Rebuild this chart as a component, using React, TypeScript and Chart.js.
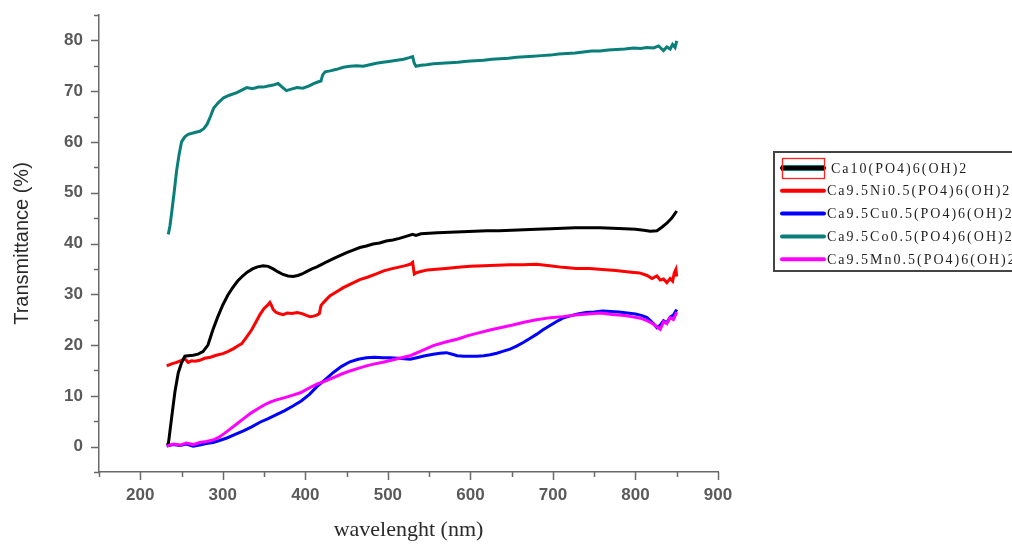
import React, { useEffect, useRef } from "react";
import { Chart, registerables } from "chart.js";

Chart.register(...registerables);

// ---- Data (wavelength in nm, transmittance in %) ----
const ca10X = [232, 234, 238, 242, 246, 250, 254, 258, 264, 270, 276, 282, 288, 294, 300, 306, 312, 318, 324, 330, 336, 342, 349, 355, 361, 367, 373, 379, 385, 391, 396, 402, 408, 414, 420, 426, 434, 442, 450, 458, 466, 474, 482, 490, 498, 506, 514, 522, 530, 534, 540, 550, 560, 575, 590, 605, 620, 635, 650, 665, 680, 697, 712, 727, 742, 757, 772, 787, 800, 810, 818, 826, 832, 838, 844, 850];
const ca10Y = [0.3, 0.5, 5.7, 10.8, 14.5, 16.5, 17.8, 17.9, 18.0, 18.2, 18.7, 20.0, 23.0, 25.6, 27.9, 29.8, 31.3, 32.6, 33.6, 34.4, 35.0, 35.4, 35.6, 35.5, 35.0, 34.4, 33.9, 33.6, 33.5, 33.7, 34.0, 34.5, 35.0, 35.4, 35.9, 36.4, 37.0, 37.6, 38.2, 38.7, 39.2, 39.5, 39.9, 40.1, 40.5, 40.7, 41.0, 41.4, 41.8, 41.6, 41.9, 42.0, 42.1, 42.2, 42.3, 42.4, 42.5, 42.5, 42.6, 42.7, 42.8, 42.9, 43.0, 43.1, 43.1, 43.1, 43.0, 42.9, 42.8, 42.6, 42.4, 42.5, 43.2, 44.0, 45.0, 46.4];

const niX = [232, 238, 244, 250, 254, 258, 262, 266, 272, 278, 285, 292, 300, 306, 313, 318, 323, 329, 335, 340, 345, 350, 354, 357, 359, 361, 364, 368, 373, 378, 384, 390, 396, 402, 406, 410, 414, 417, 419, 421, 425, 430, 438, 446, 456, 466, 476, 486, 495, 504, 512, 520, 527, 530, 532, 534, 540, 548, 555, 570, 585, 600, 616, 632, 648, 664, 680, 696, 712, 728, 744, 760, 776, 792, 805, 814, 820, 826, 830, 834, 838, 842, 845, 847, 849, 850];
const niY = [15.9, 16.3, 16.6, 17.0, 17.3, 16.6, 16.9, 16.8, 17.0, 17.4, 17.6, 18.0, 18.3, 18.7, 19.3, 19.8, 20.3, 21.6, 23.0, 24.5, 26.0, 27.2, 27.8, 28.4, 27.8, 27.0, 26.5, 26.2, 26.0, 26.3, 26.2, 26.4, 26.2, 25.8, 25.6, 25.7, 25.9, 26.2, 27.8, 28.2, 28.9, 29.7, 30.5, 31.3, 32.1, 32.9, 33.4, 34.0, 34.6, 35.0, 35.3, 35.6, 35.9, 36.3, 34.0, 34.2, 34.5, 34.8, 34.9, 35.1, 35.3, 35.5, 35.6, 35.7, 35.8, 35.8, 35.9, 35.6, 35.3, 35.1, 35.1, 34.9, 34.7, 34.4, 34.2, 33.7, 33.1, 33.6, 32.8, 33.0, 32.3, 33.1, 32.6, 34.2, 34.9, 33.5];

const cuX = [232, 240, 248, 256, 264, 272, 280, 288, 296, 305, 315, 325, 335, 345, 355, 365, 375, 385, 395, 405, 414, 424, 434, 444, 454, 464, 474, 484, 494, 503, 512, 520, 527, 535, 545, 555, 563, 571, 578, 584, 592, 600, 608, 616, 624, 632, 640, 648, 656, 664, 672, 680, 688, 696, 704, 712, 720, 730, 740, 750, 760, 770, 780, 790, 800, 808, 814, 818, 822, 826, 830, 834, 838, 842, 846, 850];
const cuY = [0.1, 0.4, 0.2, 0.5, 0.1, 0.3, 0.6, 0.8, 1.2, 1.7, 2.4, 3.1, 3.9, 4.8, 5.5, 6.3, 7.1, 8.0, 9.0, 10.3, 11.8, 13.2, 14.6, 15.8, 16.7, 17.2, 17.5, 17.6, 17.5, 17.5, 17.4, 17.3, 17.2, 17.5, 17.9, 18.2, 18.4, 18.5, 18.2, 17.9, 17.8, 17.8, 17.8, 17.9, 18.1, 18.4, 18.8, 19.2, 19.8, 20.5, 21.3, 22.1, 23.0, 23.8, 24.6, 25.3, 25.7, 26.1, 26.4, 26.5, 26.7, 26.6, 26.5, 26.3, 26.1, 25.8, 25.4, 24.8, 24.2, 23.4, 23.9, 24.8, 24.4, 25.5, 25.9, 27.0];

const coX = [234, 236, 238, 241, 244, 247, 250, 254, 258, 265, 272, 277, 281, 285, 289, 295, 301, 308, 317, 323, 329, 336, 343, 349, 355, 361, 367, 372, 377, 383, 390, 397, 404, 410, 415, 419, 421, 424, 430, 438, 446, 454, 462, 470, 478, 486, 494, 503, 511, 519, 526, 530, 532, 534, 540, 547, 555, 565, 575, 585, 596, 606, 616, 626, 636, 646, 656, 666, 676, 686, 697, 707, 717, 727, 737, 747, 757, 767, 777, 787, 798, 806, 814, 822, 828, 834, 838, 842, 845, 848, 850];
const coY = [41.8, 43.5, 46.0, 50.0, 54.3, 57.5, 60.0, 61.0, 61.5, 61.8, 62.1, 62.6, 63.5, 65.0, 66.7, 67.8, 68.7, 69.2, 69.7, 70.2, 70.7, 70.5, 70.8, 70.8, 71.0, 71.2, 71.5, 70.8, 70.1, 70.4, 70.7, 70.6, 71.0, 71.5, 71.8, 72.0, 73.2, 73.8, 74.0, 74.3, 74.7, 74.9, 75.0, 74.9, 75.2, 75.5, 75.7, 75.9, 76.1, 76.3, 76.6, 76.8, 75.5, 74.9, 75.1, 75.2, 75.4, 75.5, 75.6, 75.7, 75.9, 76.0, 76.1, 76.3, 76.4, 76.5, 76.7, 76.8, 76.9, 77.0, 77.1, 77.3, 77.4, 77.5, 77.7, 77.9, 77.9, 78.1, 78.2, 78.3, 78.5, 78.4, 78.6, 78.5, 78.9, 78.0, 78.7, 78.3, 79.2, 78.6, 79.9];

const mnX = [232, 240, 248, 256, 264, 272, 280, 288, 295, 302, 310, 318, 326, 334, 342, 350, 358, 365, 374, 384, 394, 404, 414, 424, 434, 444, 454, 464, 474, 484, 494, 504, 514, 527, 540, 555, 570, 585, 596, 610, 625, 636, 650, 665, 680, 697, 712, 727, 742, 757, 772, 787, 798, 806, 814, 820, 826, 830, 834, 838, 842, 846, 850];
const mnY = [0.1, 0.5, 0.3, 0.7, 0.4, 0.8, 1.0, 1.3, 1.8, 2.6, 3.6, 4.6, 5.6, 6.6, 7.4, 8.2, 8.8, 9.2, 9.6, 10.1, 10.6, 11.5, 12.3, 12.9, 13.6, 14.3, 14.9, 15.4, 15.9, 16.3, 16.6, 17.0, 17.4, 17.9, 18.8, 19.9, 20.6, 21.2, 21.8, 22.4, 23.0, 23.4, 23.9, 24.5, 25.0, 25.4, 25.6, 25.9, 26.1, 26.3, 26.0, 25.8, 25.5, 25.3, 24.8, 24.3, 23.6, 23.1, 24.6, 24.2, 25.4, 25.0, 26.5];

const seriesLabels = [
  "Ca10(PO4)6(OH)2",
  "Ca9.5Ni0.5(PO4)6(OH)2",
  "Ca9.5Cu0.5(PO4)6(OH)2",
  "Ca9.5Co0.5(PO4)6(OH)2",
  "Ca9.5Mn0.5(PO4)6(OH)2",
];
const seriesColors = ["#000000", "#ff0000", "#0000ff", "#0a7f7a", "#ff00ff"];

const xMajorTicks = [200, 300, 400, 500, 600, 700, 800, 900];
const xMinorTicks = [150, 250, 350, 450, 550, 650, 750, 850];
const yMajorTicks = [0, 10, 20, 30, 40, 50, 60, 70, 80];
const yMinorTicks = [-5, 5, 15, 25, 35, 45, 55, 65, 75, 85];

const toPoints = (xs: number[], ys: number[]) => xs.map((x, i) => ({ x, y: ys[i] }));

const AXIS_COLOR = "#6a6a6a";
const TICK_LABEL_COLOR = "#5a5a5a";

const ticksPlugin = {
  id: "manualTicks",
  afterDraw(chart: any) {
    const { ctx } = chart;
    const xs = chart.scales.x;
    const ys = chart.scales.y;
    const area = chart.chartArea;
    ctx.save();
    ctx.strokeStyle = AXIS_COLOR;
    ctx.lineWidth = 1.5;
    ctx.beginPath();
    yMajorTicks.forEach((v) => {
      const p = Math.round(ys.getPixelForValue(v)) + 0.5;
      ctx.moveTo(area.left - 8, p);
      ctx.lineTo(area.left, p);
    });
    yMinorTicks.forEach((v) => {
      const p = Math.round(ys.getPixelForValue(v)) + 0.5;
      ctx.moveTo(area.left - 5, p);
      ctx.lineTo(area.left, p);
    });
    xMajorTicks.forEach((v) => {
      const p = Math.round(xs.getPixelForValue(v)) + 0.5;
      ctx.moveTo(p, area.bottom);
      ctx.lineTo(p, area.bottom + 8);
    });
    xMinorTicks.forEach((v) => {
      const p = Math.round(xs.getPixelForValue(v)) + 0.5;
      ctx.moveTo(p, area.bottom);
      ctx.lineTo(p, area.bottom + 5);
    });
    ctx.stroke();
    ctx.restore();
  },
};

const legendPlugin = {
  id: "customLegend",
  afterDraw(chart: any) {
    const { ctx } = chart;
    ctx.save();
    ctx.strokeStyle = "#444";
    ctx.lineWidth = 2;
    ctx.strokeRect(774, 152, 260, 119);
    const rowStart = 168;
    const rowStep = 22.8;
    seriesLabels.forEach((label, i) => {
      const yy = rowStart + i * rowStep;
      if (i === 0) {
        ctx.strokeStyle = seriesColors[3];
        ctx.lineWidth = 6;
        ctx.beginPath();
        ctx.moveTo(781, yy);
        ctx.lineTo(825, yy);
        ctx.stroke();
      }
      ctx.strokeStyle = seriesColors[i];
      ctx.lineWidth = 4;
      ctx.lineCap = "round";
      ctx.beginPath();
      ctx.moveTo(782, yy);
      ctx.lineTo(824, yy);
      ctx.stroke();
      if (i === 0) {
        ctx.strokeStyle = "#ff2020";
        ctx.lineWidth = 1.3;
        ctx.strokeRect(782.5, 158.5, 42, 20);
      }
      ctx.fillStyle = "#1e1e1e";
      ctx.font = '14px "Liberation Serif"';
      (ctx as any).letterSpacing = "2px";
      ctx.textBaseline = "middle";
      ctx.textAlign = "left";
      ctx.fillText(label, i === 0 ? 831 : 827, yy + 1);
    });
    ctx.restore();
  },
};

export default function App() {
  const canvasRef = useRef<HTMLCanvasElement | null>(null);

  useEffect(() => {
    if (!canvasRef.current) return;
    const xsList = [ca10X, niX, cuX, coX, mnX];
    const ysList = [ca10Y, niY, cuY, coY, mnY];
    const chart = new Chart(canvasRef.current, {
      type: "line",
      data: {
        datasets: seriesLabels.map((label, i) => ({
          label,
          data: toPoints(xsList[i], ysList[i]),
          borderColor: seriesColors[i],
          backgroundColor: seriesColors[i],
          borderWidth: 3,
          pointRadius: 0,
          tension: 0,
          fill: false,
          order: i === 4 ? 0 : 1,
        })),
      },
      options: {
        animation: false,
        responsive: true,
        maintainAspectRatio: false,
        layout: { padding: { top: 15, right: 294, bottom: 0, left: 0 } },
        plugins: {
          legend: { display: false },
          tooltip: { enabled: false },
        },
        scales: {
          x: {
            type: "linear",
            min: 150,
            max: 900,
            afterBuildTicks: (s: any) => {
              s.ticks = xMajorTicks.map((v) => ({ value: v }));
            },
            afterFit: (s: any) => {
              s.height = 72;
              s.paddingLeft = 0;
              s.paddingRight = 0;
            },
            grid: { display: false, drawTicks: false, tickLength: 0 },
            border: { display: true, color: AXIS_COLOR, width: 1.5 },
            ticks: {
              color: TICK_LABEL_COLOR,
              font: { family: '"Liberation Sans", Arial, sans-serif', size: 17, weight: "bold" },
              padding: 13,
              maxRotation: 0,
              autoSkip: false,
            },
            title: {
              display: true,
              text: "wavelenght (nm)",
              color: "#2a2a2a",
              font: { family: '"Liberation Serif", serif', size: 22 },
              padding: { top: 0, bottom: 1 },
            },
          },
          y: {
            type: "linear",
            min: -5,
            max: 85,
            afterBuildTicks: (s: any) => {
              s.ticks = yMajorTicks.map((v) => ({ value: v }));
            },
            afterFit: (s: any) => {
              s.width = 99;
              s.paddingTop = 0;
              s.paddingBottom = 0;
            },
            grid: { display: false, drawTicks: false, tickLength: 0 },
            border: { display: true, color: AXIS_COLOR, width: 1.5 },
            ticks: {
              color: TICK_LABEL_COLOR,
              font: { family: '"Liberation Sans", Arial, sans-serif', size: 17, weight: "bold" },
              padding: 16,
              autoSkip: false,
            },
            title: {
              display: true,
              text: "Transmittance (%)",
              color: "#2a2a2a",
              font: { family: '"Liberation Sans", Arial, sans-serif', size: 20 },
              padding: { top: 10, bottom: 0 },
            },
          },
        },
      },
      plugins: [ticksPlugin, legendPlugin],
    });
    return () => chart.destroy();
  }, []);

  return (
    <div
      style={{
        position: "fixed",
        left: 0,
        top: 0,
        width: 1012,
        height: 544,
        background: "#ffffff",
      }}
    >
      <canvas ref={canvasRef} />
    </div>
  );
}
